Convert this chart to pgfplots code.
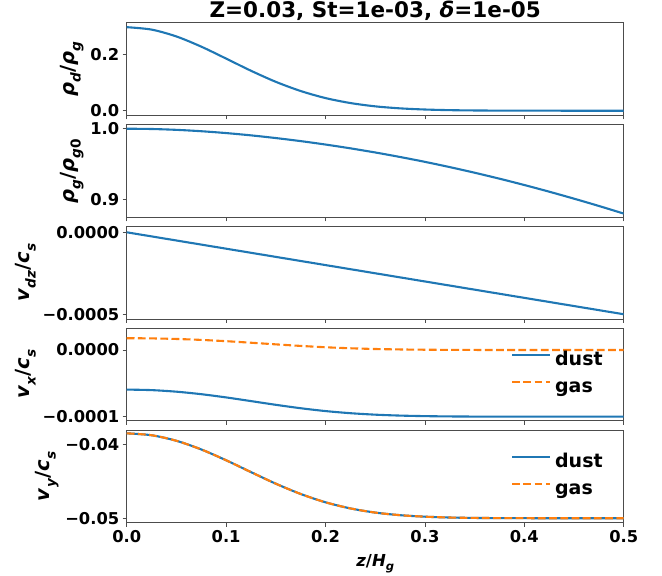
\documentclass[border=0pt]{standalone}
\usepackage{fontspec}
\setmainfont{DejaVu Sans}
\usepackage{pgfplots}
\pgfplotsset{compat=1.18}
\definecolor{c0}{HTML}{1F77B4}
\definecolor{c1}{HTML}{FF7F0E}
\newcommand\fs{\fontsize{16.3bp}{19bp}\selectfont\bfseries}
\newcommand\fl{\fontsize{19.5bp}{22bp}\selectfont\bfseries}
\newcommand\fg{\fontsize{19bp}{22bp}\selectfont\bfseries}
\newcommand\sub[1]{\raisebox{-0.3em}{\fontsize{0.7em}{0.7em}\selectfont #1}}
\pgfplotsset{
  panel/.style={
    width=497bp, height=92.7bp, scale only axis,
    xmin=0, xmax=0.5,
    xtick={0,0.1,0.2,0.3,0.4,0.5},
    xticklabels={},
    tick align=outside, tick pos=left,
    major tick length=4bp,
    axis line style={black!70, line width=0.8bp},
    major tick style={black!70, line width=0.8bp},
    every tick label/.append style={font=\fs, text=black},
    ylabel style={font=\fl},
    scaled ticks=false,
    legend style={draw=none, fill=none, font=\fg, at={(0.870,0.502)}, anchor=center,
      nodes={text height=14bp, text depth=4bp, inner sep=4.4bp}},
    legend cell align=left,
    legend image code/.code={\draw[##1] (0bp,6bp) -- (37.5bp,6bp);},
  },
  dust/.style={c0, line width=2.1bp, smooth},
  gas/.style={c1, line width=2.1bp, smooth, dash pattern=on 7.8bp off 3.4bp},
}
\begin{document}
\begin{tikzpicture}
\path[use as bounding box] (0,0) rectangle (662bp,576bp);
% panel 1
\begin{axis}[panel, at={(126.7bp,553.3bp)}, anchor=north west,
  ymin=-0.0167, ymax=0.314, ytick={0,0.2}, yticklabels={0.0,0.2},
  ylabel={\textit{ρ}\sub{\textit{d}}/\textit{ρ}\sub{\textit{g}}},
  title={Z=0.03, St=1e-03, \textit{δ}=1e-05},
  title style={font=\fontsize{21.5bp}{24bp}\selectfont\bfseries, at={(0.5,1)}, anchor=base, yshift=-0.6bp}]
\addplot[dust] coordinates {(0,0.298) (0.025,0.2894) (0.05,0.2649) (0.075,0.2286) (0.1,0.1860) (0.125,0.1426) (0.15,0.1031) (0.175,0.0703) (0.2,0.0451) (0.225,0.0274) (0.25,0.0156) (0.275,0.0084) (0.3,0.0043) (0.325,0.0020) (0.35,0.0009) (0.375,0.0004) (0.4,0.0002) (0.45,0.00002) (0.5,0)};
\end{axis}
% panel 2
\begin{axis}[panel, at={(126.7bp,451.3bp)}, anchor=north west,
  ymin=0.8743, ymax=1.0057, ytick={0.9,1.0}, yticklabels={0.9,1.0},
  ylabel={\textit{ρ}\sub{\textit{g}}/\textit{ρ}\sub{\textit{g}0}}]
\addplot[dust] coordinates {(0,1.0) (0.025,0.99960) (0.05,0.99840) (0.075,0.99645) (0.1,0.99383) (0.125,0.99058) (0.15,0.98676) (0.175,0.98244) (0.2,0.97757) (0.225,0.97220) (0.25,0.96633) (0.275,0.95993) (0.3,0.95303) (0.325,0.94558) (0.35,0.93763) (0.375,0.92916) (0.4,0.92021) (0.425,0.91076) (0.45,0.90085) (0.475,0.89051) (0.5,0.87972)};
\end{axis}
% panel 3
\begin{axis}[panel, at={(126.7bp,349.7bp)}, anchor=north west,
  ymin=-0.000529, ymax=0.0000366, ytick={-0.0005,0}, yticklabels={−0.0005,0.0000},
  ylabel={\textit{v}\sub{\textit{dz}}/\textit{c}\sub{\textit{s}}}]
\addplot[dust] coordinates {(0,0) (0.1,-0.0001) (0.2,-0.0002) (0.3,-0.0003) (0.4,-0.0004) (0.5,-0.0005)};
\end{axis}
% panel 4
\begin{axis}[panel, at={(126.7bp,248bp)}, anchor=north west,
  ymin=-0.000106, ymax=0.000033, ytick={-0.0001,0}, yticklabels={−0.0001,0.0000},
  ylabel={\textit{v}\sub{\textit{x}}/\textit{c}\sub{\textit{s}}}]
\addplot[dust] coordinates {(0,-0.00005935) (0.025,-0.00006015) (0.05,-0.00006250) (0.075,-0.00006625) (0.1,-0.00007109) (0.125,-0.00007660) (0.15,-0.00008218) (0.175,-0.00008730) (0.2,-0.00009156) (0.225,-0.00009474) (0.25,-0.00009695) (0.275,-0.00009834) (0.3,-0.00009915) (0.325,-0.00009960) (0.35,-0.00009982) (0.375,-0.00009992) (0.4,-0.00009996) (0.45,-0.0001) (0.5,-0.0001)};
\addlegendentry{dust}
\addplot[gas] coordinates {(0,0.00001769) (0.025,0.00001741) (0.05,0.00001656) (0.075,0.00001514) (0.1,0.00001322) (0.125,0.00001092) (0.15,0.00000847) (0.175,0.00000614) (0.2,0.00000413) (0.225,0.00000260) (0.25,0.00000151) (0.275,0.00000083) (0.3,0.00000043) (0.325,0.00000020) (0.35,0.00000009) (0.375,0.00000004) (0.4,0.00000002) (0.45,0) (0.5,0)};
\addlegendentry{gas}
\end{axis}
% panel 5
\begin{axis}[panel, at={(126.7bp,146bp)}, anchor=north west,
  ymin=-0.0506, ymax=-0.03807, ytick={-0.05,-0.04}, yticklabels={−0.05,−0.04},
  xticklabels={0.0,0.1,0.2,0.3,0.4,0.5},
  ylabel={\textit{v}\sub{\textit{y}}/\textit{c}\sub{\textit{s}}},
  xlabel={\textit{z}/\textit{H}\sub{\textit{g}}},
  xlabel style={font=\fontsize{16.5bp}{19bp}\selectfont\bfseries, at={(axis description cs:0.5,0)}, anchor=base, yshift=-43.3bp}]
\addplot[dust] coordinates {(0,-0.038521) (0.025,-0.038778) (0.05,-0.039529) (0.075,-0.040697) (0.1,-0.042159) (0.125,-0.043760) (0.15,-0.045327) (0.175,-0.046716) (0.2,-0.047842) (0.225,-0.048667) (0.25,-0.049232) (0.275,-0.049583) (0.3,-0.049786) (0.325,-0.049900) (0.35,-0.049955) (0.375,-0.049980) (0.4,-0.049990) (0.45,-0.05) (0.5,-0.05)};
\addlegendentry{dust}
\addplot[gas] coordinates {(0,-0.038521) (0.025,-0.038778) (0.05,-0.039529) (0.075,-0.040697) (0.1,-0.042159) (0.125,-0.043760) (0.15,-0.045327) (0.175,-0.046716) (0.2,-0.047842) (0.225,-0.048667) (0.25,-0.049232) (0.275,-0.049583) (0.3,-0.049786) (0.325,-0.049900) (0.35,-0.049955) (0.375,-0.049980) (0.4,-0.049990) (0.45,-0.05) (0.5,-0.05)};
\addlegendentry{gas}
\end{axis}
\end{tikzpicture}
\end{document}
